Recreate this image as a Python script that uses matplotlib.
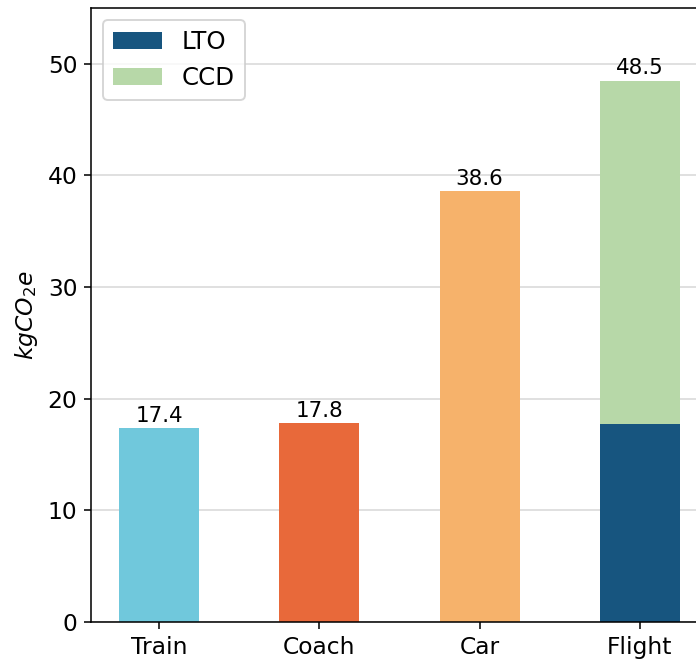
import matplotlib.pyplot as plt

modes = ['Train', 'Coach', 'Car', 'Flight']
single_values = [17.4, 17.8, 38.6]
single_colors = ['#70c8dc', '#e8693a', '#f6b26b']
flight_lto = 17.7
flight_ccd = 30.8
totals = [17.4, 17.8, 38.6, 48.5]

dpi = 140
fig = plt.figure(figsize=(696 / dpi, 660 / dpi), dpi=dpi)
ax = fig.add_axes([91 / 696, 38 / 660, 617 / 696, 614 / 660])

ax.set_axisbelow(True)
ax.grid(axis='y', color='#e0e0e0', linewidth=1.0)

ax.bar(modes[:3], single_values, width=0.5, color=single_colors)
ax.bar(modes[3], flight_lto, width=0.5, color='#17557f', label='LTO')
ax.bar(modes[3], flight_ccd, width=0.5, bottom=flight_lto, color='#b7d8a8', label='CCD')

for i, t in enumerate(totals):
    ax.text(i, t + 0.2, f"{t:.1f}", ha='center', va='bottom', fontsize=11)

ax.set_ylim(0, 55)
ax.set_xlim(-0.425, 3.425)
ax.set_ylabel('$kgCO_2e$', fontsize=12)
ax.tick_params(labelsize=12)
ax.legend(loc='upper left', fontsize=12.6)

fig.savefig('out.png', dpi=dpi)
